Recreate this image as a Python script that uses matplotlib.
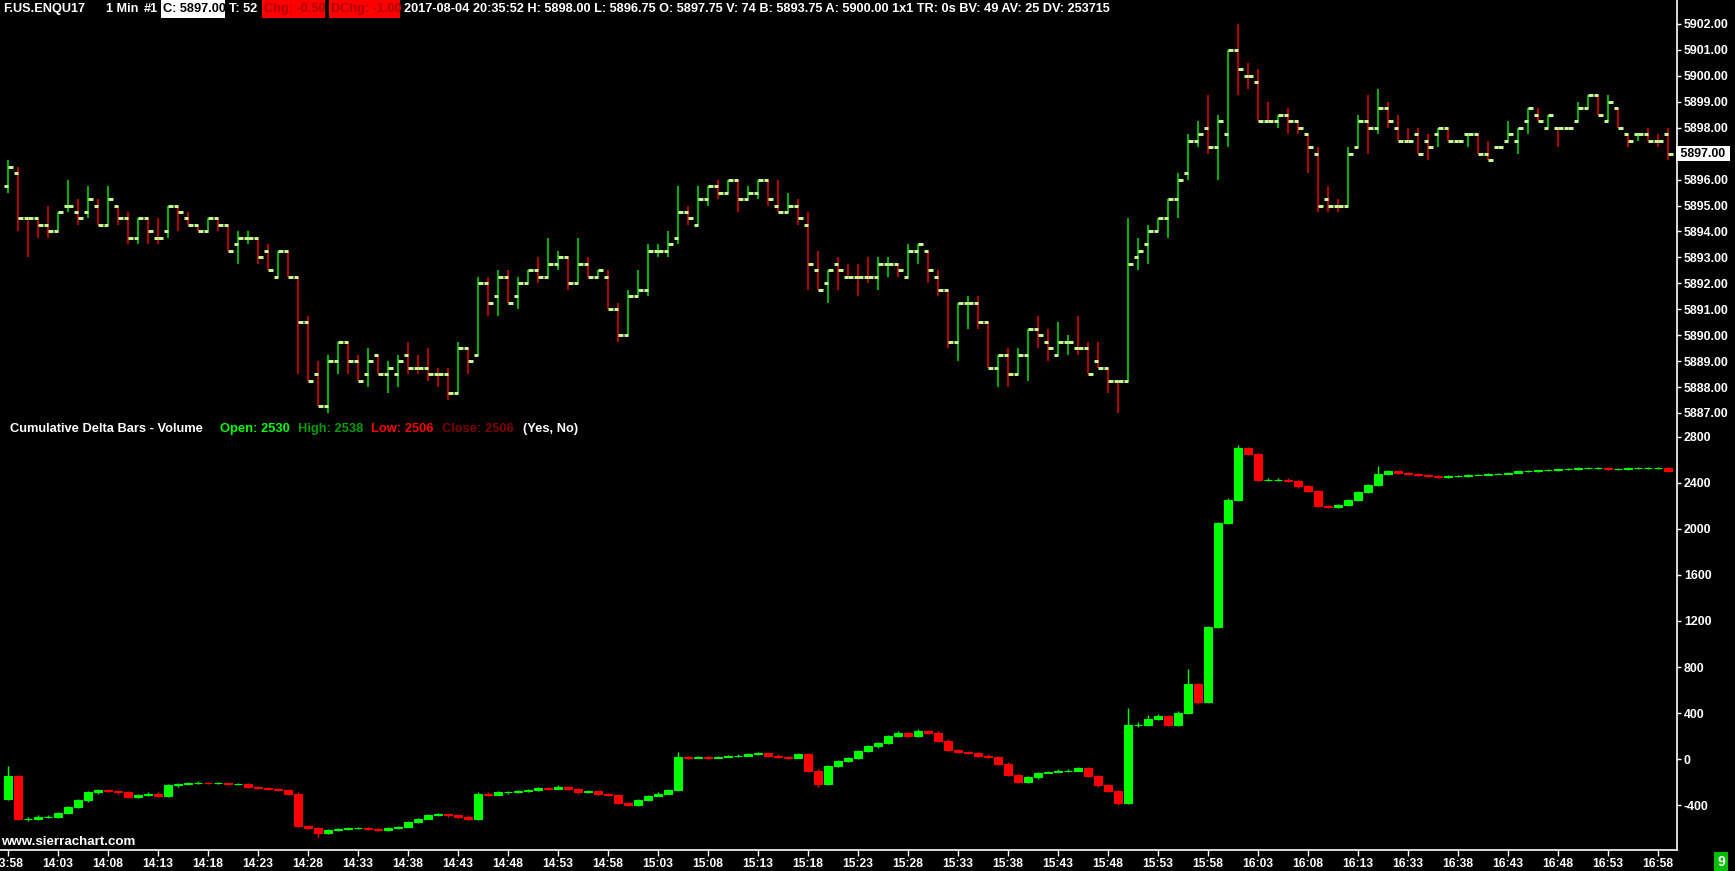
import matplotlib
matplotlib.use('Agg')
import matplotlib.pyplot as plt
from matplotlib.lines import Line2D
from matplotlib.patches import Rectangle
from matplotlib import font_manager as fm
import numpy as np

# ---------------- data ----------------
time_labels = ['13:58', '14:03', '14:08', '14:13', '14:18', '14:23', '14:28', '14:33', '14:38',
               '14:43', '14:48', '14:53', '14:58', '15:03', '15:08', '15:13', '15:18', '15:23',
               '15:28', '15:33', '15:38', '15:43', '15:48', '15:53', '15:58', '16:03', '16:08',
               '16:13', '16:33', '16:38', '16:43', '16:48', '16:53', '16:58']

price_open = [5895.75, 5896.25, 5894.5, 5894.5, 5894.25, 5894, 5895, 5894.75, 5894.75, 5895,
              5894.25, 5895, 5894.5, 5893.75, 5894.5, 5893.75, 5894, 5895, 5894.5, 5894.25,
              5894, 5894.5, 5894.25, 5893.5, 5893.75, 5893.75, 5893.25, 5892.25, 5893.25, 5892.25,
              5890.5, 5888.5, 5887.25, 5889, 5889.75, 5889, 5888.5, 5889.25, 5888.5, 5888.5,
              5889.25, 5888.75, 5888.75, 5888.5, 5888.5, 5887.75, 5889.5, 5889.25, 5892, 5891.5,
              5892.25, 5891.5, 5892, 5892.5, 5892.25, 5892.75, 5893, 5892, 5892.75, 5892.25,
              5892.25, 5891, 5890, 5891.5, 5891.75, 5893.25, 5893.25, 5893.75, 5894.75, 5894.25,
              5895.25, 5895.75, 5895.5, 5896, 5895.25, 5895.5, 5896, 5895, 5894.75, 5895,
              5894.25, 5892.5, 5892, 5892.75, 5892.25, 5892.25, 5892.25, 5892.25, 5892.75, 5892.75,
              5892.25, 5893.25, 5893.25, 5892.25, 5891.75, 5889.75, 5891.25, 5891.25, 5890.5, 5888.75,
              5889.25, 5888.5, 5889.25, 5890.25, 5889.75, 5889.25, 5889.75, 5889.5, 5889.5, 5889,
              5888.75, 5888.25, 5888.25, 5893, 5893.5, 5894, 5894.5, 5895.25, 5896.25, 5897.5,
              5898, 5897.25, 5897.75, 5901, 5900, 5899.75, 5898.25, 5898.25, 5898.5, 5898.25,
              5897.75, 5897, 5895.25, 5895, 5895, 5897.25, 5898.25, 5898, 5898.75, 5898,
              5897.5, 5897.75, 5897.5, 5897.75, 5898, 5897.5, 5897.75, 5897.75, 5897, 5897.25,
              5897.5, 5897.5, 5898.25, 5898.5, 5898, 5898, 5898, 5898.25, 5898.75, 5899.25,
              5898.25, 5898.75, 5897.75, 5897.75, 5897.75, 5897.5, 5897.75]

price_high = [5896.75, 5896.5, 5894.5, 5894.5, 5895, 5894.75, 5896, 5895.25, 5895.75, 5895.25,
              5895.75, 5895, 5894.75, 5894.5, 5894.5, 5894.5, 5895, 5895, 5894.75, 5894.25,
              5894.5, 5894.5, 5894.25, 5894, 5894, 5893.75, 5893.5, 5893.25, 5893.25, 5892.25,
              5890.75, 5889, 5889.25, 5889.75, 5889.75, 5889.25, 5889.5, 5889.25, 5889, 5889.25,
              5889.75, 5889.25, 5889.5, 5888.75, 5888.75, 5889.75, 5889.5, 5892.25, 5892.25, 5892.5,
              5892.5, 5892.25, 5892.5, 5893, 5893.75, 5893.25, 5893, 5893.75, 5893, 5892.5,
              5892.5, 5891.25, 5891.75, 5892.5, 5893.5, 5893.5, 5894, 5895.75, 5895, 5895.75,
              5895.75, 5896, 5896, 5896, 5895.75, 5896, 5896, 5896, 5895.5, 5895.25,
              5894.75, 5893.25, 5892.5, 5893, 5892.75, 5892.75, 5893, 5893, 5893, 5892.75,
              5893.5, 5893.5, 5893.25, 5892.5, 5891.75, 5891.25, 5891.5, 5891.5, 5890.5, 5889.25,
              5889.5, 5889.5, 5890.25, 5890.75, 5890.25, 5890.5, 5890, 5890.75, 5889.75, 5889.75,
              5888.75, 5888.25, 5894.5, 5893.75, 5894.25, 5894.5, 5895.25, 5896.25, 5897.75, 5898.25,
              5899.25, 5898.5, 5901, 5902, 5900.5, 5900.25, 5899, 5898.5, 5898.75, 5898.25,
              5897.75, 5897.25, 5895.75, 5895.25, 5897.25, 5898.5, 5899.25, 5899.5, 5899, 5898.5,
              5898, 5898, 5897.75, 5898, 5898, 5897.5, 5897.75, 5897.75, 5897.5, 5897.25,
              5898.25, 5898, 5898.75, 5898.75, 5898.5, 5898, 5898, 5899, 5899.25, 5899.25,
              5899.25, 5898.75, 5897.75, 5897.75, 5898, 5897.75, 5898]

price_low = [5895.5, 5894, 5893, 5893.75, 5893.75, 5894, 5894.75, 5894.25, 5894.5, 5894.25,
             5894.25, 5894.25, 5893.5, 5893.5, 5893.5, 5893.5, 5893.75, 5894, 5894.25, 5894,
             5894, 5894, 5893.25, 5892.75, 5893.5, 5892.75, 5892.5, 5892.25, 5892.25, 5888.5,
             5888.25, 5887.25, 5887, 5888.5, 5888.5, 5888.25, 5888, 5888.5, 5887.75, 5888,
             5888.5, 5888.5, 5888.25, 5888, 5887.5, 5887.75, 5888.5, 5889.25, 5890.75, 5890.75,
             5891.25, 5891, 5892, 5892, 5892.25, 5892.5, 5891.75, 5892, 5892.25, 5892.25,
             5891, 5889.75, 5890, 5891.5, 5891.5, 5893, 5893, 5893.5, 5894.25, 5894.25,
             5895, 5895.25, 5895.5, 5894.75, 5895.25, 5895.25, 5895, 5894.75, 5894.75, 5894.25,
             5891.75, 5891.75, 5891.25, 5891.75, 5892.25, 5891.5, 5892, 5891.75, 5892.25, 5892.25,
             5892.25, 5892.75, 5892, 5891.5, 5889.5, 5889, 5890.25, 5890.25, 5888.75, 5888,
             5888, 5888.5, 5888.25, 5889.5, 5889, 5889.25, 5889.25, 5889.25, 5888.5, 5888.75,
             5887.75, 5887, 5888.25, 5892.5, 5892.75, 5894, 5893.75, 5894.5, 5896, 5897.25,
             5897, 5896, 5897.25, 5899.25, 5899.5, 5898.25, 5898.25, 5898, 5897.75, 5897.75,
             5896.25, 5894.75, 5894.75, 5894.75, 5895, 5897.25, 5897, 5897.75, 5898, 5897.5,
             5897.5, 5897, 5896.75, 5897.25, 5897.5, 5897.5, 5897.25, 5897, 5896.75, 5897.25,
             5897.5, 5897, 5897.75, 5898.25, 5898, 5897.25, 5898, 5898.25, 5898.75, 5898.5,
             5898.25, 5898, 5897.25, 5897.5, 5897.5, 5897.25, 5896.75]

price_close = [5896.5, 5894.5, 5894.5, 5894.25, 5894, 5894.75, 5895, 5894.5, 5895.25, 5894.25,
               5895.25, 5894.5, 5893.75, 5894.5, 5894, 5893.75, 5895, 5894.75, 5894.25, 5894,
               5894.5, 5894.25, 5893.25, 5893.75, 5893.75, 5893, 5892.5, 5893.25, 5892.25, 5890.5,
               5888.25, 5887.25, 5889, 5889.75, 5889, 5888.25, 5889, 5888.5, 5888.75, 5889,
               5888.75, 5888.75, 5888.5, 5888.5, 5887.75, 5889.5, 5889, 5892, 5891.25, 5892.25,
               5891.25, 5892, 5892.5, 5892.25, 5892.75, 5893, 5892, 5892.75, 5892.25, 5892.5,
               5891, 5890, 5891.5, 5891.75, 5893.25, 5893.25, 5893.5, 5894.75, 5894.5, 5895.25,
               5895.75, 5895.5, 5896, 5895.25, 5895.5, 5896, 5895.25, 5894.75, 5895, 5894.5,
               5892.75, 5891.75, 5892.5, 5892.5, 5892.25, 5892.25, 5892.25, 5892.75, 5892.75, 5892.5,
               5893.25, 5893.5, 5892.5, 5891.75, 5889.75, 5891.25, 5891.25, 5890.5, 5888.75, 5889.25,
               5888.5, 5889.25, 5890.25, 5890, 5889.5, 5889.75, 5889.75, 5889.5, 5888.5, 5888.75,
               5888.25, 5888.25, 5892.75, 5893.25, 5894, 5894.5, 5895.25, 5896, 5897.5, 5897.75,
               5897.25, 5898.25, 5901, 5900.25, 5900, 5898.25, 5898.25, 5898.5, 5898.25, 5898,
               5897.25, 5895, 5895, 5895, 5897, 5898.25, 5898, 5898.75, 5898.25, 5897.5,
               5897.5, 5897, 5897.25, 5898, 5897.5, 5897.5, 5897.75, 5897, 5896.75, 5897.25,
               5897.75, 5898, 5898.75, 5898.25, 5898.5, 5898, 5898, 5898.75, 5899.25, 5898.5,
               5899, 5898, 5897.5, 5897.75, 5897.5, 5897.5, 5897]

# cumulative delta bars (volume)
cd_open = [-350, -150, -520, -520, -500, -500, -470, -420, -360, -290,
           -270, -280, -290, -330, -310, -300, -320, -230, -215, -210,
           -205, -210, -210, -220, -215, -240, -250, -260, -270, -300,
           -580, -600, -640, -620, -610, -600, -600, -610, -620, -600,
           -590, -550, -520, -490, -480, -490, -500, -520, -300, -310,
           -290, -290, -280, -270, -250, -260, -240, -260, -290, -280,
           -300, -310, -380, -400, -360, -320, -300, -270, 20, 10,
           20, 10, 20, 25, 30, 40, 50, 30, 20, 10,
           40, -100, -220, -60, -20, 10, 70, 110, 140, 200,
           230, 200, 240, 230, 160, 80, 60, 50, 30, 20,
           -40, -140, -200, -160, -120, -110, -100, -100, -80, -150,
           -230, -280, -380, 300, 300, 350, 370, 300, 400, 650,
           500, 1150, 2050, 2250, 2700, 2650, 2430, 2430, 2430, 2420,
           2370, 2330, 2200, 2190, 2210, 2250, 2320, 2380, 2480, 2500,
           2490, 2480, 2470, 2460, 2450, 2460, 2460, 2470, 2470, 2480,
           2480, 2490, 2500, 2500, 2510, 2510, 2520, 2520, 2530, 2530,
           2530, 2520, 2520, 2530, 2530, 2530, 2530]

cd_high = [-60, -140, -500, -490, -490, -460, -410, -350, -280, -260,
           -265, -275, -280, -300, -290, -290, -220, -205, -200, -195,
           -200, -200, -205, -205, -210, -235, -245, -255, -260, -290,
           -570, -590, -610, -600, -590, -590, -595, -600, -590, -580,
           -540, -510, -480, -470, -475, -485, -490, -290, -290, -280,
           -280, -270, -260, -240, -245, -230, -235, -255, -270, -275,
           -295, -300, -370, -350, -310, -290, -260, 60, 30, 30,
           25, 30, 35, 40, 50, 60, 55, 40, 25, 50,
           50, -90, -50, -10, 20, 80, 120, 150, 210, 240,
           235, 260, 250, 240, 170, 90, 70, 60, 40, 30,
           -30, -130, -150, -110, -100, -90, -90, -70, -70, -140,
           -220, -270, 440, 320, 380, 390, 380, 420, 780, 660,
           1160, 2060, 2270, 2730, 2710, 2660, 2440, 2440, 2440, 2430,
           2380, 2340, 2210, 2220, 2260, 2330, 2390, 2550, 2510, 2505,
           2495, 2485, 2475, 2465, 2465, 2470, 2475, 2480, 2485, 2490,
           2495, 2505, 2510, 2515, 2520, 2525, 2530, 2535, 2540, 2540,
           2535, 2530, 2535, 2540, 2540, 2540, 2538]

cd_low = [-360, -530, -540, -530, -515, -510, -480, -430, -370, -300,
          -290, -300, -340, -340, -320, -330, -330, -240, -225, -215,
          -220, -220, -230, -225, -250, -260, -270, -280, -310, -590,
          -610, -680, -650, -625, -615, -610, -620, -630, -625, -605,
          -595, -555, -525, -495, -500, -510, -530, -530, -320, -315,
          -300, -295, -285, -275, -270, -265, -270, -300, -295, -310,
          -320, -390, -410, -405, -365, -325, -305, -280, 0, 5,
          0, 5, 15, 20, 25, 35, 20, 10, 0, 5,
          -110, -240, -230, -70, -30, 0, 60, 100, 130, 190,
          190, 195, 220, 150, 70, 50, 40, 20, 10, -50,
          -150, -210, -210, -170, -125, -115, -110, -105, -160, -240,
          -290, -400, -390, 280, 290, 340, 290, 290, 390, 480,
          490, 1140, 2040, 2240, 2640, 2420, 2420, 2420, 2410, 2360,
          2320, 2190, 2180, 2180, 2200, 2240, 2310, 2370, 2470, 2480,
          2470, 2460, 2450, 2440, 2445, 2455, 2455, 2465, 2465, 2475,
          2475, 2485, 2495, 2495, 2505, 2505, 2515, 2515, 2525, 2525,
          2515, 2515, 2515, 2525, 2525, 2525, 2506]

cd_close = [-150, -520, -520, -500, -500, -470, -420, -360, -290, -270,
            -280, -290, -330, -310, -300, -320, -230, -215, -210, -205,
            -210, -210, -220, -215, -240, -250, -260, -270, -300, -580,
            -600, -640, -620, -610, -600, -600, -610, -620, -600, -590,
            -550, -520, -490, -480, -490, -500, -520, -300, -310, -290,
            -290, -280, -270, -250, -260, -240, -260, -290, -280, -300,
            -310, -380, -400, -360, -320, -300, -270, 20, 10, 20,
            10, 20, 25, 30, 40, 50, 30, 20, 10, 40,
            -100, -220, -60, -20, 10, 70, 110, 140, 200, 230,
            200, 240, 230, 160, 80, 60, 50, 30, 20, -40,
            -140, -200, -160, -120, -110, -100, -100, -80, -150, -230,
            -280, -380, 300, 300, 350, 370, 300, 400, 650, 500,
            1150, 2050, 2250, 2700, 2650, 2430, 2430, 2430, 2420, 2370,
            2330, 2200, 2190, 2210, 2250, 2320, 2380, 2480, 2500, 2490,
            2480, 2470, 2460, 2450, 2460, 2460, 2470, 2470, 2480, 2480,
            2490, 2500, 2500, 2510, 2510, 2520, 2520, 2530, 2530, 2530,
            2520, 2520, 2530, 2530, 2530, 2530, 2506]

# ---------------- fonts ----------------


def has_font(name):
    try:
        fm.findfont(fm.FontProperties(family=name), fallback_to_default=False)
        return True
    except Exception:
        return False


ARIAL = ['Liberation Sans', 'DejaVu Sans']
if has_font('Liberation Sans Narrow'):
    NARROW = ['Liberation Sans Narrow', 'DejaVu Sans']
    NSCALE = 1.22
else:
    NARROW = ARIAL
    NSCALE = 1.0

# ---------------- figure ----------------
W, H = 1735, 871
fig = plt.figure(figsize=(W / 100, H / 100), dpi=100, facecolor='black')


def fx(px):
    return px / W


def fy(py):
    return 1 - py / H


ax1 = fig.add_axes([0, fy(425), fx(1677), (425 - 20) / H])
ax2 = fig.add_axes([0, fy(850), fx(1677), (850 - 425) / H])
n = len(price_close)
xs = np.arange(n)
for ax in (ax1, ax2):
    ax.set_facecolor('black')
    for s in ax.spines.values():
        s.set_visible(False)
    ax.set_xlim(-0.8, 166.9)

ax1.set_ylim(5886.535, 5902.154)
ax2.set_ylim(-791, 2904)

UP = '#00e600'
DN = '#e60000'
TICKC = '#ccff99'

# bar colours (close vs open; ties vs previous close)
cols = []
prev = UP
for i in range(n):
    o, c = price_open[i], price_close[i]
    pc = price_close[i - 1] if i > 0 else o
    if c > o:
        col = UP
    elif c < o:
        col = DN
    elif c > pc:
        col = UP
    elif c < pc:
        col = DN
    else:
        col = prev
    cols.append(col)
    prev = col

ax1.vlines(xs, price_low, price_high, colors=cols, linewidth=1.1)
ax1.hlines(price_open, xs - 0.45, xs, color=TICKC, linewidth=2.1)
ax1.hlines(price_close, xs, xs + 0.45, color=TICKC, linewidth=2.1)

# candles
ccols = ['#00ff00' if c >= o else '#ff0000' for o, c in zip(cd_open, cd_close)]
ax2.vlines(xs, cd_low, cd_high, colors=ccols, linewidth=1.0)
heights = [c - o for o, c in zip(cd_open, cd_close)]
ax2.bar(xs, heights, bottom=cd_open, width=0.75, color=ccols, edgecolor=ccols, linewidth=0.8)

# y axes
ax1.yaxis.tick_right()
yt1 = list(range(5887, 5903))
ax1.set_yticks(yt1)
ax1.set_yticklabels(['' if v == 5897 else f'{v:.2f}' for v in yt1])
ax2.yaxis.tick_right()
yt2 = list(range(-400, 2801, 400))
ax2.set_yticks(yt2)
ax2.set_yticklabels([str(v) for v in yt2])
for ax in (ax1, ax2):
    ax.tick_params(axis='y', colors='white', length=3, width=1, pad=2, labelsize=8.9)
    for t in ax.get_yticklabels():
        t.set_fontweight('bold')
        t.set_family(ARIAL)
ax1.set_xticks([])

ax2.set_xticks([5 * k for k in range(len(time_labels))])
ax2.set_xticklabels(time_labels)
ax2.tick_params(axis='x', colors='white', length=4, width=1, pad=2, labelsize=8.7 * NSCALE)
for t in ax2.get_xticklabels():
    t.set_family(NARROW)
    t.set_fontweight('bold')

# current price marker
ax1.text(1.0, 5897.0, ' 5897.00 ', transform=ax1.get_yaxis_transform(), color='black',
         fontsize=8.9, fontweight='bold', family=ARIAL, va='center', ha='left',
         bbox=dict(facecolor='white', edgecolor='none', pad=1.0), clip_on=False)

# frame lines
fig.add_artist(Line2D([fx(1677), fx(1677)], [fy(0), fy(850)], color='white', linewidth=1.2))
fig.add_artist(Line2D([0, fx(1677)], [fy(850), fy(850)], color='white', linewidth=1.2))

# header
HFS = 9.2 * NSCALE
hy = fy(9)
for x0, x1, col in [(161, 225, 'white'), (262, 325, '#ff0000'), (329, 400, '#ff0000')]:
    fig.add_artist(Rectangle((fx(x0), fy(18)), fx(x1) - fx(x0), 18 / H, transform=fig.transFigure,
                             facecolor=col, edgecolor='none'))
header_parts = [(3, 'F.US.ENQU17', 'white'), (106, '1 Min', 'white'), (144, '#1', 'white'),
                (163, 'C: 5897.00', 'black'), (229, 'T: 52', 'white'),
                (264, 'Chg: -0.50', '#b00000'), (331, 'DChg: -1.00', '#b00000'),
                (404, '2017-08-04 20:35:52 H: 5898.00 L: 5896.75 O: 5897.75 V: 74 B: 5893.75 '
                      'A: 5900.00 1x1 TR: 0s BV: 49 AV: 25 DV: 253715', 'white')]
for px, txt, col in header_parts:
    fig.text(fx(px), hy, txt, color=col, fontsize=HFS, fontweight='bold', family=NARROW, va='center')

# study title
ty = fy(429)
parts = [('Cumulative Delta Bars - Volume', 'white', 10), ('Open: 2530', '#00ff00', 220),
         ('High: 2538', '#00a000', 298), ('Low: 2506', '#ff0000', 371),
         ('Close: 2506', '#800000', 442), ('(Yes, No)', 'white', 523)]
for txt, col, px in parts:
    fig.text(fx(px), ty, txt, color=col, fontsize=9.3, fontweight='bold', family=ARIAL, va='center')

fig.text(fx(1), fy(842), 'www.sierrachart.com', color='white', fontsize=9.6, fontweight='bold',
         family=ARIAL, va='center')
fig.text(fx(1721), fy(862), '9', color='white', fontsize=10, fontweight='bold', family=ARIAL,
         va='center', ha='center', bbox=dict(facecolor='#00c000', edgecolor='none', pad=2))

fig.savefig('out.png', dpi=100, facecolor='black')
